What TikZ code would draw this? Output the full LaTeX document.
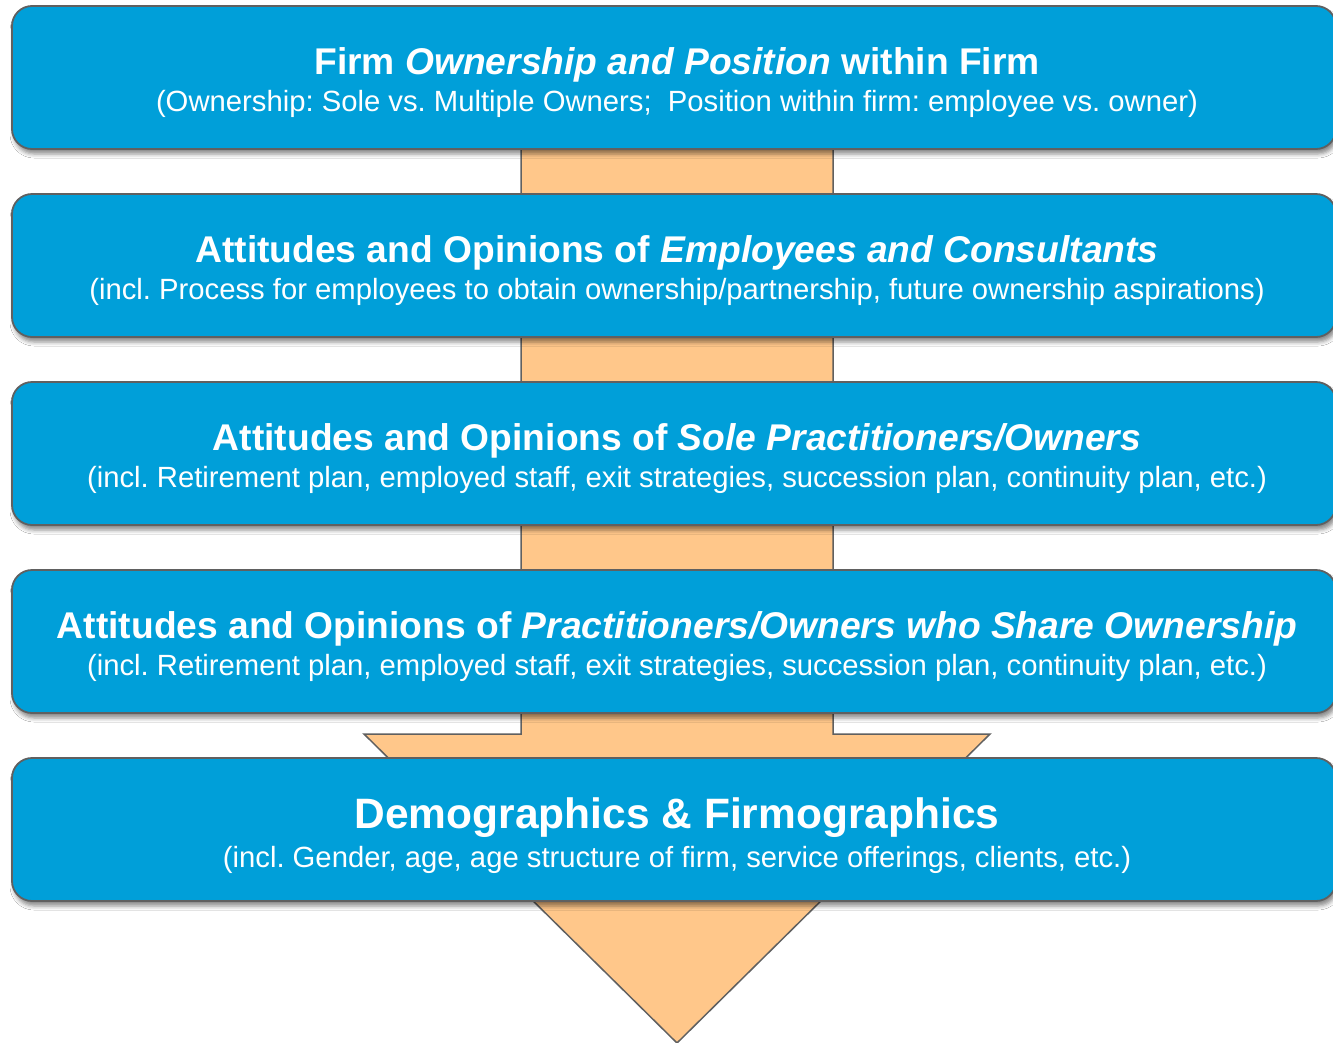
\documentclass[tikz,border=0pt]{standalone}
\usepackage{fontspec}
\setmainfont{Liberation Sans}
\usetikzlibrary{shadows.blur}
\definecolor{boxblue}{HTML}{009FD9}
\definecolor{arroworange}{HTML}{FFC78A}
\definecolor{edgegray}{HTML}{606060}
\frenchspacing
\begin{document}
\begin{tikzpicture}[x=1pt,y=-1pt,
  panel/.style={draw=edgegray, line width=1.8pt, fill=boxblue, rounded corners=20pt,
    minimum width=1324pt, minimum height=143pt, inner sep=0pt,
    blur shadow={shadow xshift=2pt, shadow yshift=-5pt, shadow blur radius=4pt, shadow opacity=45}},
  ttl/.style={anchor=base, text=white, font=\fontsize{37.2}{44}\selectfont\bfseries, inner sep=0pt},
  bigttl/.style={anchor=base, text=white, font=\fontsize{42.5}{50}\selectfont\bfseries, inner sep=0pt},
  sub/.style={anchor=base, text=white, font=\fontsize{29.25}{34}\selectfont, inner sep=0pt},
  flow/.style={fill=arroworange, draw=edgegray, line width=1.5pt, line join=miter}]
\useasboundingbox (0,0) rectangle (1333,1042);
\fill[white] (0,0) rectangle (1333,1042);

% big downward arrow behind the panels
\path[flow] (521,120) -- (521,734) -- (364,734) -- (677,1043) -- (990,734) -- (833,734) -- (833,120) -- cycle;

% panels
\node[panel] (b1) at (674,77.5) {};
\node[panel] (b2) at (674,265.5) {};
\node[panel] (b3) at (674,453.5) {};
\node[panel] (b4) at (674,641.5) {};
\node[panel] (b5) at (674,829.5) {};

% texts
\node[ttl] (t1) at (677,74) {Firm \textit{Ownership and Position} within Firm};
\node[sub] (s1) at (677,111) {(Ownership: Sole vs. Multiple Owners;\ \ Position within firm: employee vs. owner)};

\node[ttl] (t2) at (677,262) {Attitudes and Opinions of \textit{Employees and Consultants}};
\node[sub] (s2) at (677,299) {(incl. Process for employees to obtain ownership/partnership, future ownership aspirations)};

\node[ttl] (t3) at (677,450) {Attitudes and Opinions of \textit{Sole Practitioners/Owners}};
\node[sub] (s3) at (677,487) {(incl. Retirement plan, employed staff, exit strategies, succession plan, continuity plan, etc.)};

\node[ttl] (t4) at (677,638) {Attitudes and Opinions of \textit{Practitioners/Owners who Share Ownership}};
\node[sub] (s4) at (677,675) {(incl. Retirement plan, employed staff, exit strategies, succession plan, continuity plan, etc.)};

\node[bigttl] (t5) at (677,828) {Demographics \& Firmographics};
\node[sub] (s5) at (677,867) {(incl. Gender, age, age structure of firm, service offerings, clients, etc.)};
\end{tikzpicture}
\end{document}
